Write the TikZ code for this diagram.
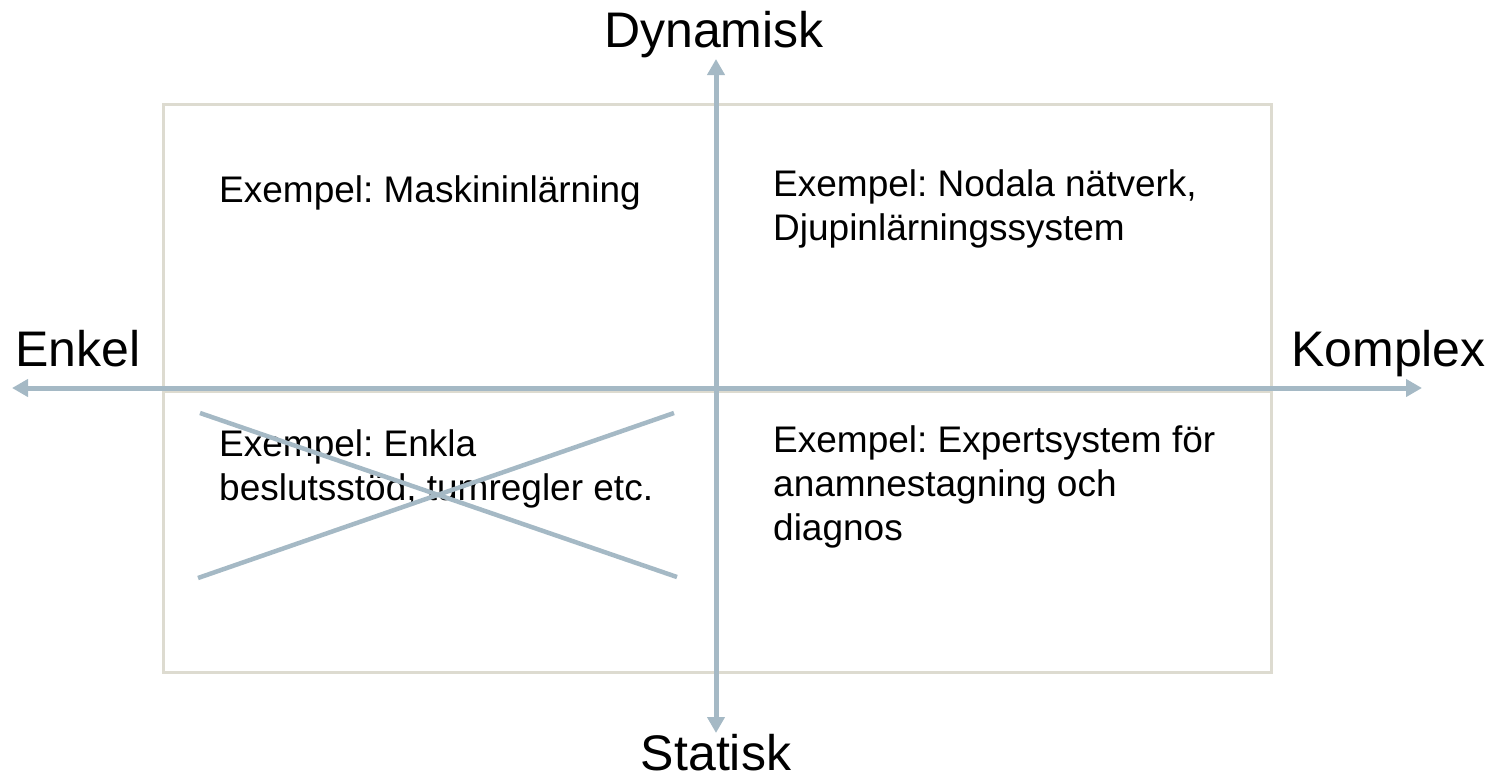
\documentclass[tikz,border=0pt]{standalone}
\usepackage{fontspec}
\setmainfont{Liberation Sans}
\frenchspacing
\usetikzlibrary{arrows.meta}
\definecolor{axisblue}{HTML}{A5B9C5}
\definecolor{boxbeige}{HTML}{DDDBD0}
\tikzset{
  axis/.style={draw=axisblue, line width=5pt, -{Triangle[length=16pt,width=17pt]}},
  cross/.style={draw=axisblue, line width=4.5pt},
  frame/.style={draw=boxbeige, line width=3pt},
  biglabel/.style={inner sep=0pt, font=\fontsize{50}{58}\selectfont, anchor=base},
  ex/.style={inner sep=0pt, font=\fontsize{37}{44}\selectfont, align=left, anchor=base west},
}
\begin{document}
\begin{tikzpicture}[x=1pt,y=-1pt]
\useasboundingbox (0,0) rectangle (1499,780);
% frame with quadrant divider
\draw[frame] (163.5,104.5) rectangle (1271.5,672.5);
\draw[frame] (163.5,391) -- (1271.5,391);
% axis end points
\coordinate (L) at (12,388);
\coordinate (R) at (1422,388);
\coordinate (T) at (716,59);
\coordinate (B) at (716,733);
\coordinate (O) at (716,388);
\draw[axis] (O) -- (L);
\draw[axis] (O) -- (R);
\draw[axis] (O) -- (T);
\draw[axis] (O) -- (B);
% labels
\node[biglabel] (dyn) at (714,47) {Dynamisk};
\node[biglabel] (stat) at (716,770) {Statisk};
\node[biglabel, anchor=base west] (enk) at (15,366) {Enkel};
\node[biglabel, anchor=base west] (kom) at (1291,366) {Komplex};
% quadrant texts (anchored at the baseline of the last line)
\node[ex] (q1) at (219,202) {Exempel: Maskininlärning};
\node[ex] (q2) at (773,240) {Exempel: Nodala nätverk,\\Djupinlärningssystem};
\node[ex] (q3) at (219,500) {Exempel: Enkla\\beslutsstöd, tumregler etc.};
\node[ex] (q4) at (773,540) {Exempel: Expertsystem för\\anamnestagning och\\diagnos};
% cross over lower-left
\coordinate (c1) at (200,413);
\coordinate (c2) at (677,577);
\coordinate (c3) at (198,578);
\coordinate (c4) at (674,413);
\draw[cross] (c1) -- (c2);
\draw[cross] (c3) -- (c4);
\end{tikzpicture}
\end{document}
